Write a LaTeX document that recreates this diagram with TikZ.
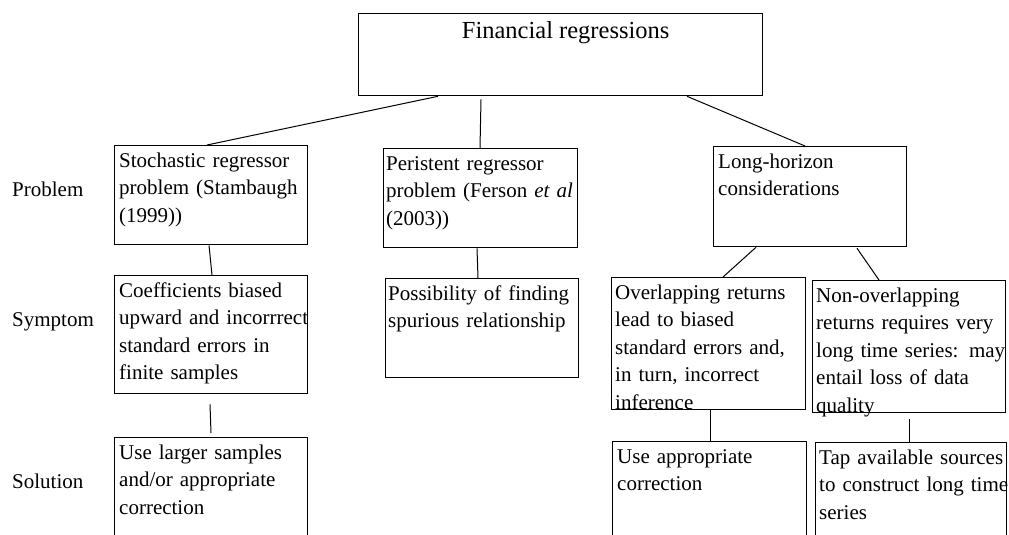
\documentclass[tikz,border=0pt]{standalone}
\usepackage{fontspec}
\setmainfont{Liberation Serif}
\begin{document}
\begin{tikzpicture}[x=1pt,y=-1pt,
  box/.style={draw, line width=1.3pt, rectangle, anchor=north west, inner sep=0pt},
  txt/.style={anchor=base west, inner sep=0pt, text width=210pt, align=left,
    font=\fontsize{21}{27.5}\selectfont},
  side/.style={anchor=base west, inner sep=0pt, font=\fontsize{21}{27.5}\selectfont},
  link/.style={draw, line width=1pt}]
\clip (0,0) rectangle (1009,535);
\fill[white] (0,0) rectangle (1009,535);

% boxes
\node[box, minimum width=404pt, minimum height=82pt] (top) at (358,13) {};
\node[box, minimum width=193pt, minimum height=99pt] (b1) at (114,145) {};
\node[box, minimum width=194pt, minimum height=99pt] (b2) at (383,148) {};
\node[box, minimum width=193pt, minimum height=100pt] (b3) at (713,146) {};
\node[box, minimum width=193pt, minimum height=118pt] (s1) at (114,275) {};
\node[box, minimum width=193pt, minimum height=99pt] (s2) at (385,278) {};
\node[box, minimum width=194pt, minimum height=132pt] (s3) at (611,277) {};
\node[box, minimum width=193pt, minimum height=132pt] (s4) at (812,280) {};
\node[box, minimum width=193pt, minimum height=120pt] (o1) at (114,437) {};
\node[box, minimum width=194pt, minimum height=120pt] (o3) at (612,441) {};
\node[box, minimum width=191pt, minimum height=120pt] (o4) at (815,442) {};

% texts
\node[anchor=base, inner sep=0pt, font=\fontsize{24.5}{29}\selectfont] (topt)
  at ([xshift=5pt,yshift=-26pt]top.north) {Financial regressions};
\node[txt] (b1t) at ([xshift=5pt,yshift=-22pt]b1.north west)
  {Stochastic regressor\\problem (Stambaugh\\(1999))};
\node[txt] (b2t) at ([xshift=3pt,yshift=-22pt]b2.north west)
  {Peristent regressor\\problem (Ferson \textit{et al}\\(2003))};
\node[txt] (b3t) at ([xshift=5pt,yshift=-22pt]b3.north west)
  {Long-horizon\\considerations};
\node[txt] (s1t) at ([xshift=5pt,yshift=-22pt]s1.north west)
  {Coefficients biased\\upward and incorrrect\\standard errors in\\finite samples};
\node[txt] (s2t) at ([xshift=3pt,yshift=-22pt]s2.north west)
  {Possibility of finding\\spurious relationship};
\node[txt] (s3t) at ([xshift=4pt,yshift=-22pt]s3.north west)
  {Overlapping returns\\lead to biased\\standard errors and,\\in turn, incorrect\\inference};
\node[txt] (s4t) at ([xshift=4pt,yshift=-22pt]s4.north west)
  {Non-overlapping\\returns requires very\\long time series: may\\entail loss of data\\quality};
\node[txt] (o1t) at ([xshift=5pt,yshift=-22pt]o1.north west)
  {Use larger samples\\and/or appropriate\\correction};
\node[txt] (o3t) at ([xshift=5pt,yshift=-22pt]o3.north west)
  {Use appropriate\\correction};
\node[txt] (o4t) at ([xshift=4pt,yshift=-22pt]o4.north west)
  {Tap available sources\\to construct long time\\series};

% side labels
\node[side] (lp) at (12,196) {Problem};
\node[side] (ls) at (12,326) {Symptom};
\node[side] (lo) at (12,488) {Solution};

% connectors
\draw[link] ([xshift=80pt]top.south west) -- ([xshift=93pt]b1.north west);
\draw[link] ([xshift=123pt,yshift=-3pt]top.south west) -- ([xshift=97pt]b2.north west);
\draw[link] ([xshift=329pt]top.south west) -- ([xshift=92pt]b3.north west);
\draw[link] ([xshift=95pt]b1.south west) -- ([xshift=98pt]s1.north west);
\draw[link] ([xshift=94pt]b2.south west) -- ([xshift=93pt]s2.north west);
\draw[link] ([xshift=43pt]b3.south west) -- ([xshift=112pt]s3.north west);
\draw[link] ([xshift=144pt,yshift=-1pt]b3.south west) -- ([xshift=67pt]s4.north west);
\draw[link] ([xshift=96pt,yshift=-10pt]s1.south west) -- ([xshift=97pt,yshift=4pt]o1.north west);
\draw[link] ([xshift=99pt]s3.south west) -- ([xshift=98pt]o3.north west);
\draw[link] ([xshift=97pt,yshift=-6pt]s4.south west) -- ([xshift=94pt]o4.north west);
\end{tikzpicture}
\end{document}
